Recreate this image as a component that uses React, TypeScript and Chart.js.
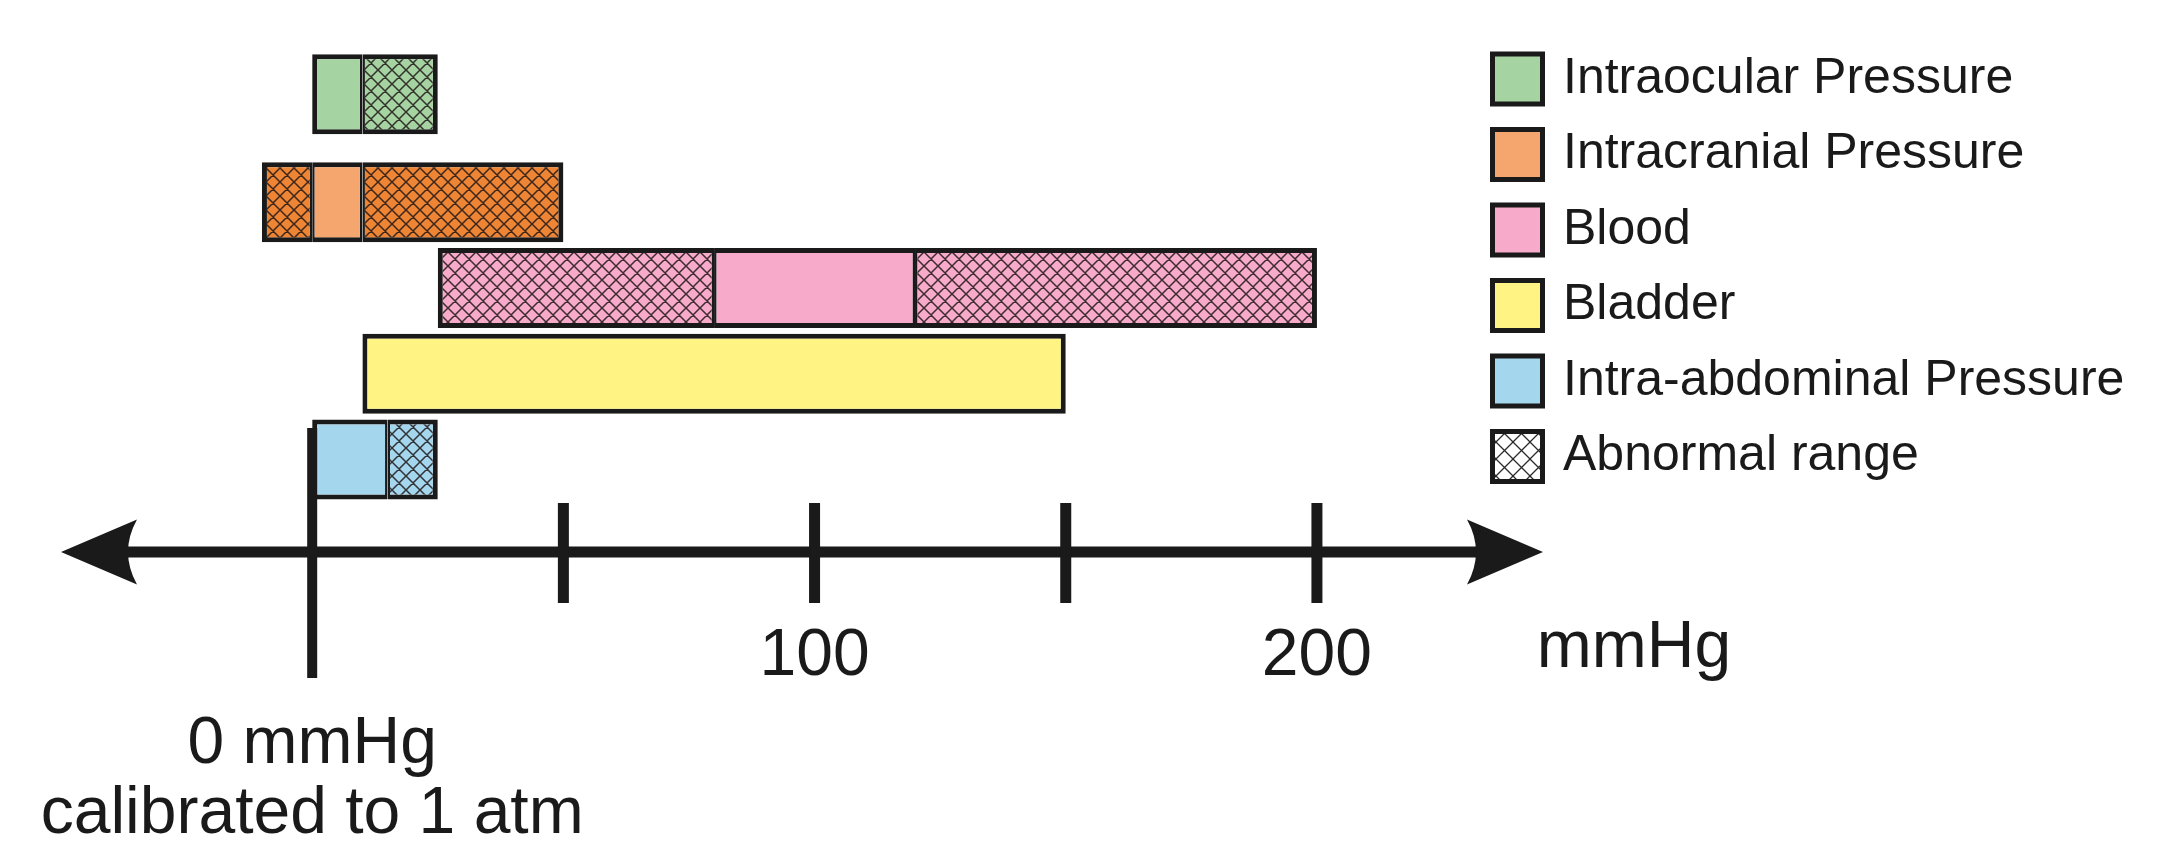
import React, { useEffect, useRef } from "react";
import { Chart, registerables } from "chart.js";

Chart.register(...registerables);

// ---------------- data ----------------
const categories = [
  "Intraocular Pressure",
  "Intracranial Pressure",
  "Blood",
  "Bladder",
  "Intra-abdominal Pressure",
];
// mmHg ranges [start, end]
const normalRange: [number, number][] = [
  [0, 10],
  [0, 10],
  [80, 120],
  [10, 150],
  [0, 15],
];
const abnormalLow: ([number, number] | null)[] = [null, [-10, 0], [25, 80], null, null];
const abnormalHigh: ([number, number] | null)[] = [[10, 25], [10, 50], [120, 200], null, [15, 25]];
const xTickValues = [0, 50, 100, 150, 200];
const xTickLabels: (string | string[])[] = [["", "0 mmHg", "calibrated to 1 atm"], "", "100", "", "200"];
const unitLabel = "mmHg";
const abnormalLabel = "Abnormal range";

// ---------------- layout / style ----------------
const W = 2160;
const H = 860;
const FONT = "'Liberation Sans', Arial, Helvetica, sans-serif";
const INK = "#1a1a1a";
const rowCenters = [0.64, 1.9, 2.9, 3.9, 4.9]; // row centres in y-scale units
const Y_RANGE = 5.52;
const normalColors = ["#A5D3A2", "#F5A66E", "#F7AACA", "#FFF384", "#A4D6EE"];
const abnormalColors = ["#A5D3A2", "#EE8534", "#F7AACA", "#FFF384", "#A4D6EE"];

function makeHatch(color: string, period: number, lw: number, ink: string): CanvasPattern | string {
  const c = document.createElement("canvas");
  c.width = period;
  c.height = period;
  const g = c.getContext("2d");
  if (!g) return color;
  g.fillStyle = color;
  g.fillRect(0, 0, period, period);
  g.strokeStyle = ink;
  g.lineWidth = lw;
  g.beginPath();
  for (const o of [-period, 0, period]) {
    g.moveTo(o, 0);
    g.lineTo(o + period, period);
    g.moveTo(o + period, 0);
    g.lineTo(o, period);
  }
  g.stroke();
  return g.createPattern(c, "repeat") || color;
}

type Seg = { x: [number, number]; y: number; row: number };

function segments(ranges: ([number, number] | null)[]): Seg[] {
  const out: Seg[] = [];
  ranges.forEach((r, i) => {
    if (r) out.push({ x: r, y: rowCenters[i], row: i });
  });
  return out;
}

function rowSegs(row: number): [number, number][] {
  return [normalRange[row], abnormalLow[row], abnormalHigh[row]].filter(Boolean) as [number, number][];
}

function borderFor(ctx: any) {
  const full = 5;
  const half = 2.5;
  const raw = ctx && (ctx.raw as Seg | undefined);
  if (!raw || !raw.x) return full;
  const [a, b] = raw.x;
  const others = rowSegs(raw.row).filter((s) => !(s[0] === a && s[1] === b));
  return {
    top: full,
    bottom: full,
    left: others.some((s) => s[1] === a) ? half : full,
    right: others.some((s) => s[0] === b) ? half : full,
  };
}

const axisPlugin = {
  id: "arrowAxis",
  afterDatasetsDraw(chart: any, _args: any, o: any) {
    const { ctx, chartArea } = chart;
    const xs = chart.scales.x;
    const y = chartArea.bottom;
    ctx.save();
    ctx.fillStyle = INK;
    ctx.strokeStyle = INK;
    ctx.lineWidth = o.lineWidth;
    ctx.beginPath();
    ctx.moveTo(xs.left + o.headLen * 0.8, y);
    ctx.lineTo(xs.right - o.headLen * 0.8, y);
    ctx.stroke();
    const heads: [number, number][] = [
      [xs.left, 1],
      [xs.right, -1],
    ];
    for (const [tip, dir] of heads) {
      ctx.beginPath();
      ctx.moveTo(tip, y);
      ctx.lineTo(tip + dir * o.headLen, y - o.headHalf);
      ctx.quadraticCurveTo(tip + dir * (o.headLen - 2 * o.notch), y, tip + dir * o.headLen, y + o.headHalf);
      ctx.closePath();
      ctx.fill();
    }
    xs.ticks.forEach((t: any) => {
      const px = xs.getPixelForValue(t.value);
      const big = t.value === 0;
      const up = big ? o.zeroUp : o.tickUp;
      const down = big ? o.zeroDown : o.tickDown;
      const w = big ? o.zeroWidth : o.tickWidth;
      ctx.fillRect(px - w / 2, y - up, w, up + down);
    });
    ctx.font = `${o.unitSize}px ${FONT}`;
    ctx.textAlign = "center";
    ctx.textBaseline = "middle";
    ctx.fillText(unitLabel, xs.right + o.unitDx, y + o.unitDy);
    ctx.restore();
  },
};

const legendPlugin = {
  id: "sideLegend",
  afterDraw(chart: any, _args: any, o: any) {
    const ctx = chart.ctx;
    const labels = [...categories, abnormalLabel];
    const legendHatch = makeHatch("#ffffff", 17, 1.3, "rgba(20,20,20,0.9)");
    ctx.save();
    labels.forEach((label, i) => {
      const cy = o.top + i * o.rowGap;
      const x0 = o.left;
      const y0 = cy - o.box / 2;
      ctx.fillStyle = INK;
      ctx.fillRect(x0, y0, o.box, o.box);
      ctx.fillStyle = i < categories.length ? normalColors[i] : legendHatch;
      ctx.fillRect(x0 + o.border, y0 + o.border, o.box - 2 * o.border, o.box - 2 * o.border);
      ctx.fillStyle = INK;
      ctx.font = `${o.fontSize}px ${FONT}`;
      ctx.textAlign = "left";
      ctx.textBaseline = "middle";
      ctx.fillText(label, o.textX, cy);
    });
    ctx.restore();
  },
};

export default function App() {
  const ref = useRef<HTMLCanvasElement | null>(null);

  useEffect(() => {
    const canvas = ref.current;
    if (!canvas) return;
    const patterns = abnormalColors.map((c) => makeHatch(c, 14, 1.5, "rgba(30,22,22,0.85)"));

    const common = {
      indexAxis: "y" as const,
      grouped: false,
      barThickness: 80,
      borderColor: INK,
      borderWidth: borderFor,
      borderSkipped: false,
      inflateAmount: 0,
    };

    const chart = new Chart(canvas, {
      type: "bar",
      data: {
        datasets: [
          {
            ...common,
            label: "Normal",
            data: segments(normalRange) as any,
            backgroundColor: (ctx: any) => (ctx.raw ? normalColors[ctx.raw.row] : normalColors[0]),
          },
          {
            ...common,
            label: "Abnormal (low)",
            data: segments(abnormalLow) as any,
            backgroundColor: (ctx: any) => (ctx.raw ? patterns[ctx.raw.row] : patterns[0]),
          },
          {
            ...common,
            label: "Abnormal (high)",
            data: segments(abnormalHigh) as any,
            backgroundColor: (ctx: any) => (ctx.raw ? patterns[ctx.raw.row] : patterns[0]),
          },
        ] as any,
      },
      options: {
        indexAxis: "y",
        responsive: false,
        animation: false,
        devicePixelRatio: 1,
        events: [],
        layout: { padding: { left: 61, right: 617, top: 0, bottom: 0 } },
        scales: {
          y: {
            type: "linear",
            display: false,
            reverse: true,
            min: 0,
            max: Y_RANGE,
          },
          x: {
            type: "linear",
            min: -50,
            max: 245,
            grid: { display: false },
            border: { display: false },
            afterBuildTicks: (s: any) => {
              s.ticks = xTickValues.map((v) => ({ value: v }));
            },
            afterFit: (s: any) => {
              s.height = H - 552;
              s.paddingLeft = 0;
              s.paddingRight = 0;
            },
            ticks: {
              autoSkip: false,
              maxRotation: 0,
              minRotation: 0,
              padding: 80,
              color: INK,
              font: (ctx: any) => ({
                family: FONT,
                size: 66,
                lineHeight: ctx && ctx.tick && ctx.tick.value === 0 ? "70px" : "34px",
              }),
              callback: (v: any) => {
                const i = xTickValues.indexOf(Number(v));
                return i >= 0 ? xTickLabels[i] : "";
              },
            },
          },
        },
        plugins: {
          legend: { display: false },
          tooltip: { enabled: false },
          arrowAxis: {
            lineWidth: 11,
            headLen: 76,
            headHalf: 32.5,
            notch: 9,
            tickUp: 49,
            tickDown: 51,
            tickWidth: 11,
            zeroUp: 124,
            zeroDown: 126,
            zeroWidth: 10,
            unitSize: 66,
            unitDx: 91,
            unitDy: 97,
          },
          sideLegend: {
            left: 1490,
            top: 79,
            rowGap: 75.5,
            box: 55,
            border: 5,
            textX: 1563,
            fontSize: 50,
          },
        } as any,
      },
      plugins: [axisPlugin, legendPlugin],
    } as any);

    return () => chart.destroy();
  }, []);

  return (
    <div style={{ position: "fixed", left: 0, top: 0, width: W, height: H, background: "#fff" }}>
      <canvas ref={ref} width={W} height={H} style={{ display: "block", width: W, height: H }} />
    </div>
  );
}
